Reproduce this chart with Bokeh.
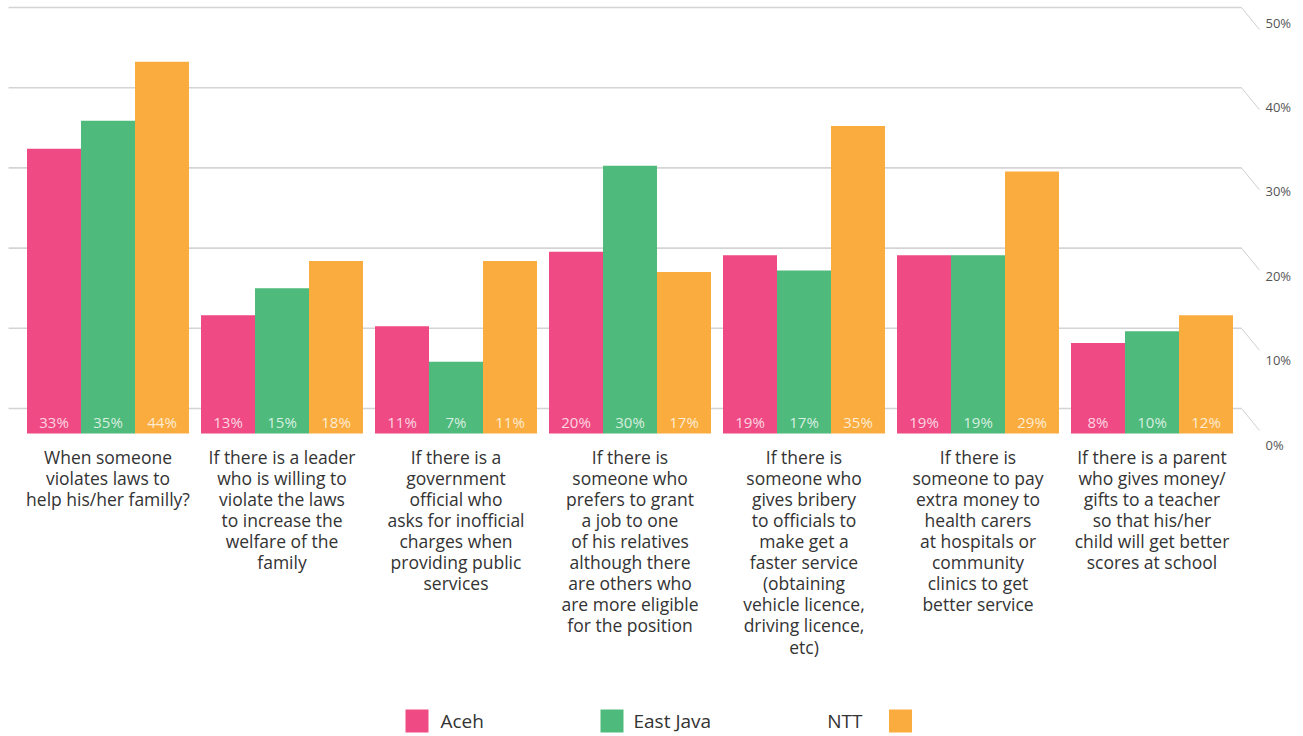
from bokeh.plotting import figure
from bokeh.models import Range1d, ColumnDataSource
from bokeh.transform import dodge
from bokeh.core.properties import value
from bokeh.embed import file_html
from bokeh.resources import INLINE

# ---------------- data ----------------
categories = [
    "When someone\nviolates laws to\nhelp his/her familly?",
    "If there is a leader\nwho is willing to\nviolate the laws\nto increase the\nwelfare of the\nfamily",
    "If there is a\ngovernment\nofficial who\nasks for inofficial\ncharges when\nproviding public\nservices",
    "If there is\nsomeone who\nprefers to grant\na job to one\nof his relatives\nalthough there\nare others who\nare more eligible\nfor the position",
    "If there is\nsomeone who\ngives bribery\nto officials to\nmake get a\nfaster service\n(obtaining\nvehicle licence,\ndriving licence,\netc)",
    "If there is\nsomeone to pay\nextra money to\nhealth carers\nat hospitals or\ncommunity\nclinics to get\nbetter service",
    "If there is a parent\nwho gives money/\ngifts to a teacher\nso that his/her\nchild will get better\nscores at school",
]
series = ["Aceh", "East Java", "NTT"]

# bar heights as drawn (percent scale)
aceh = [33.7, 14.0, 12.7, 21.5, 21.1, 21.1, 10.7]
east_java = [37.0, 17.2, 8.5, 31.7, 19.3, 21.1, 12.1]
ntt = [44.0, 20.4, 20.4, 19.1, 36.4, 31.0, 14.0]

# printed value labels
aceh_labels = [33, 13, 11, 20, 19, 19, 8]
east_java_labels = [35, 15, 7, 30, 17, 19, 10]
ntt_labels = [44, 18, 11, 17, 35, 29, 12]

ticks = [0, 10, 20, 30, 40, 50]

# ---------------- style / layout ----------------
colors = ["#F04A84", "#4EBA7B", "#FAAD3E"]
FONT = "Open Sans"
W, H = 1303, 736
GROUP_PX = 174.0
FIRST_PX = 107.5
BAR_PX = 54.0
BASE_PX = 433.0
PX_PER_PCT = 8.45
WALL_BASE_PX = 408.0
WALL_PX_PER_PCT = 8.02
LAB_BASE_PX = 444.0
LAB_PX_PER_PCT = 8.44

bar_w = BAR_PX / GROUP_PX

p = figure(
    width=W, height=H,
    x_range=Range1d(-FIRST_PX / GROUP_PX, (W - FIRST_PX) / GROUP_PX),
    y_range=Range1d(-(H - BASE_PX) / PX_PER_PCT, BASE_PX / PX_PER_PCT),
    output_backend="svg", toolbar_location=None,
    x_axis_location=None, y_axis_location=None,
    min_border=0, outline_line_color=None,
    background_fill_color="white", border_fill_color="white",
)
p.grid.visible = False

p.extra_x_ranges = {"px": Range1d(0, W)}
p.extra_y_ranges = {
    "px": Range1d(H, 0),
    "wall": Range1d(-(H - WALL_BASE_PX) / WALL_PX_PER_PCT, WALL_BASE_PX / WALL_PX_PER_PCT),
    "lab": Range1d(-(H - LAB_BASE_PX) / LAB_PX_PER_PCT, LAB_BASE_PX / LAB_PX_PER_PCT),
}

# perspective gridlines on the back wall
drop = 22.0 / WALL_PX_PER_PCT
p.multi_line(
    xs=[[8, 1241] for t in ticks],
    ys=[[t, t] for t in ticks],
    x_range_name="px", y_range_name="wall",
    line_color="#d4d4d4", line_width=1.6,
)
p.multi_line(
    xs=[[1241, 1259] for t in ticks],
    ys=[[t, t - drop] for t in ticks],
    x_range_name="px", y_range_name="wall",
    line_color="#cfcfcf", line_width=1,
)
p.text(
    x=[1265] * len(ticks), y=ticks, text=[f"{t}%" for t in ticks],
    x_range_name="px", y_range_name="lab",
    text_font=value(FONT), text_font_size="13px", text_color="#555555",
    text_align="left", text_baseline="middle",
)

src = ColumnDataSource(dict(
    x=list(range(len(categories))),
    cat=categories,
    aceh=aceh, east_java=east_java, ntt=ntt,
    aceh_l=[f"{v}%" for v in aceh_labels],
    east_java_l=[f"{v}%" for v in east_java_labels],
    ntt_l=[f"{v}%" for v in ntt_labels],
))

for i, (col, c) in enumerate(zip(["aceh", "east_java", "ntt"], colors)):
    off = (i - 1) * bar_w
    p.vbar(x=dodge("x", off, range=p.x_range), top=col, bottom=0, width=bar_w,
           fill_color=c, line_color=None, source=src)
    p.text(x=dodge("x", off, range=p.x_range), y=0, text=col + "_l", source=src,
           y_offset=-12, text_align="center", text_baseline="middle",
           text_font=value(FONT), text_font_size="15px",
           text_color="white", text_alpha=0.78)

p.text(x="x", y=0, text="cat", source=src, y_offset=11,
       text_align="center", text_baseline="top",
       text_font=value(FONT), text_font_size="17.5px", text_color="#333333",
       text_line_height=0.88)

# legend (custom)
sq_x = [416.5, 611.5, 900.0]
txt_x = [440, 633, 862]
txt_align = ["left", "left", "right"]
p.rect(x=sq_x, y=[720.5] * 3, width=23, height=23, fill_color=colors, line_color=None,
       x_range_name="px", y_range_name="px")
for name, tx, al in zip(series, txt_x, txt_align):
    p.text(x=[tx], y=[720], text=[name], x_range_name="px", y_range_name="px",
           text_align=al, text_baseline="middle",
           text_font=value(FONT), text_font_size="19px", text_color="#333333")

open("out.html", "w").write(file_html(p, INLINE))
